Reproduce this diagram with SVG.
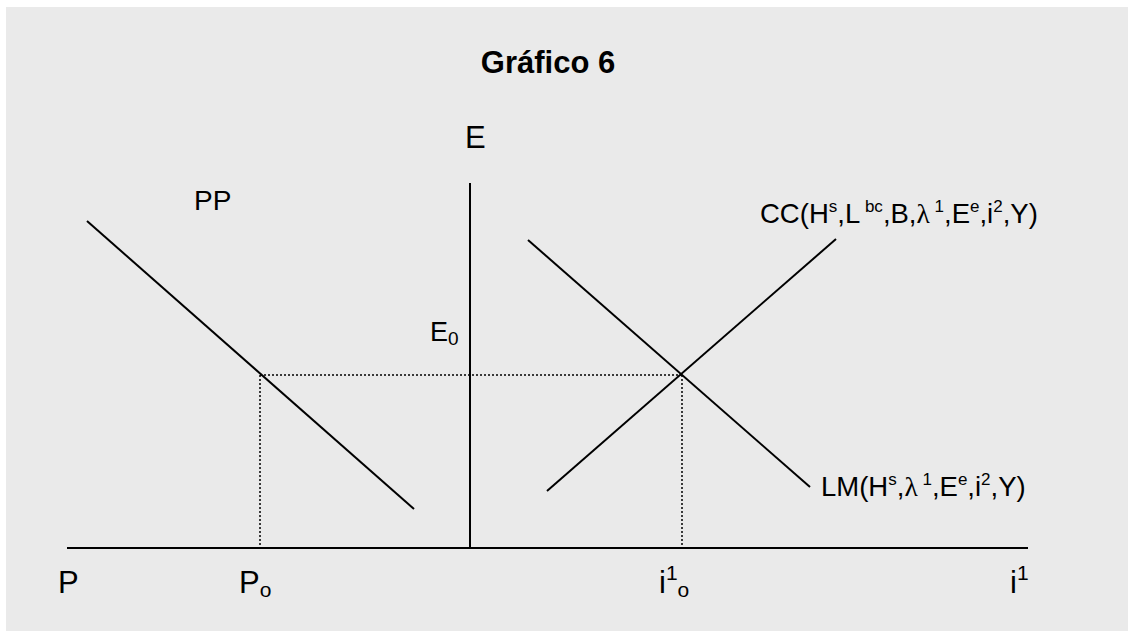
<svg xmlns="http://www.w3.org/2000/svg" width="1128" height="632" viewBox="0 0 1128 632">
<style>
.t{font-family:"Liberation Sans",Arial,sans-serif;fill:#000}
.ln{stroke:#000;stroke-width:2;fill:none}
.dot{stroke:#000;stroke-width:1.5;stroke-dasharray:2 2;fill:none}
.g{font-family:"Liberation Serif","DejaVu Serif",serif}
</style>
<rect x="0" y="0" width="1128" height="632" fill="#ffffff"/>
<rect x="6" y="7" width="1122" height="624" fill="#eaeaea"/>
<g id="title"><text class="t" x="548" y="73" font-size="31" font-weight="bold" text-anchor="middle">Gráfico 6</text></g>
<g id="connectors">
<line class="ln" x1="67" y1="548" x2="1028" y2="548"/>
<line class="ln" x1="470" y1="183" x2="470" y2="548"/>
<line class="ln" x1="87" y1="221" x2="414" y2="509"/>
<line class="ln" x1="528" y1="240" x2="810" y2="487"/>
<line class="ln" x1="547" y1="491" x2="836" y2="239"/>
<line class="dot" x1="260" y1="375" x2="682" y2="375"/>
<line class="dot" x1="260" y1="375" x2="260" y2="548"/>
<line class="dot" x1="682" y1="375" x2="682" y2="548"/>
</g>
<g id="axisE"><text class="t" x="465" y="148" font-size="31">E</text></g>
<g id="E0"><text class="t" x="430" y="341" font-size="27">E<tspan font-size="19" dy="4">0</tspan></text></g>
<g id="PP"><text class="t" x="194" y="210" font-size="28">PP</text></g>
<g id="CC"><text class="t" x="760" y="223" font-size="27.5">CC(H<tspan font-size="17" dy="-11">s</tspan><tspan dy="11">,L</tspan><tspan font-size="17" dy="-11"> bc</tspan><tspan dy="11">,B,</tspan><tspan class="g">λ</tspan><tspan font-size="17" dy="-11"> 1</tspan><tspan dy="11">,E</tspan><tspan font-size="17" dy="-11">e</tspan><tspan dy="11">,i</tspan><tspan font-size="17" dy="-11">2</tspan><tspan dy="11">,Y)</tspan></text></g>
<g id="LM"><text class="t" x="821" y="496" font-size="27.5">LM(H<tspan font-size="17" dy="-11">s</tspan><tspan dy="11">,</tspan><tspan class="g">λ</tspan><tspan font-size="17" dy="-11"> 1</tspan><tspan dy="11">,E</tspan><tspan font-size="17" dy="-11">e</tspan><tspan dy="11">,i</tspan><tspan font-size="17" dy="-11">2</tspan><tspan dy="11">,Y)</tspan></text></g>
<g id="P"><text class="t" x="58" y="593" font-size="31">P</text></g>
<g id="Po"><text class="t" x="239" y="593" font-size="31">P<tspan font-size="21" dy="4">o</tspan></text></g>
<g id="i1o"><text class="t" x="659" y="593" font-size="31">i<tspan font-size="21" dy="-13">1</tspan><tspan font-size="21" dy="17">o</tspan></text></g>
<g id="i1"><text class="t" x="1010" y="593" font-size="31">i<tspan font-size="21" dy="-13">1</tspan></text></g>
</svg>
